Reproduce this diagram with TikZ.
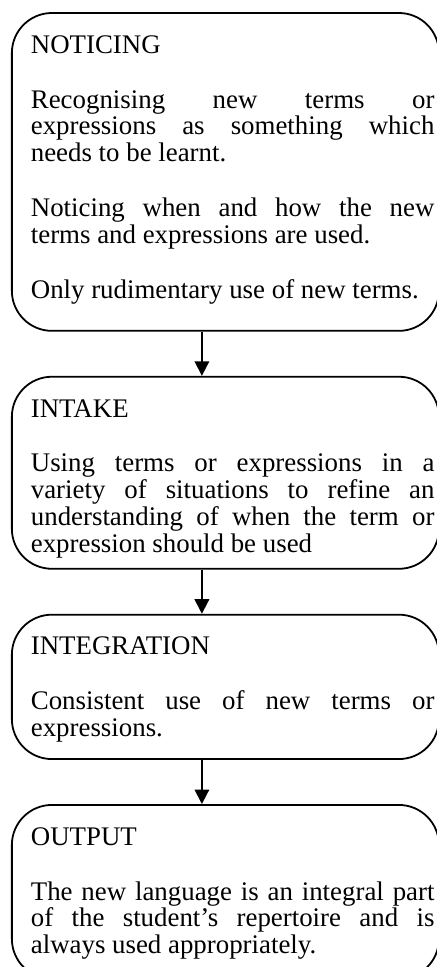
\documentclass[tikz,border=0pt]{standalone}
\usepackage{fontspec}
\setmainfont{Liberation Serif}
\usetikzlibrary{positioning, arrows.meta}

\begin{document}
\begin{tikzpicture}[
    node distance=19.7pt,
    stage/.style={rectangle, draw, line width=0.8pt, rounded corners=17.9pt, text width=186.8pt, align=justify, inner xsep=2pt, inner ysep=10pt, text height=8pt, font=\fontsize{12}{12}\selectfont, execute at begin node={\setlength{\leftskip}{6.5pt}\setlength{\parskip}{12.5pt}\hyphenpenalty=10000\exhyphenpenalty=10000\frenchspacing\spaceskip=0.25em plus 2em minus 0pt\relax}},
    arrow/.style={-{Triangle[length=6.5pt, width=6.5pt]}, line width=0.8pt}
]

\useasboundingbox (0,0) rectangle (195.2pt,-432pt);
\coordinate (axis) at (90.2pt,0);

% Nodes
\node[stage, anchor=north west, text depth=114pt] (noticing) at (4.9pt,-5.4pt) {NOTICING\par
Recognising new terms or expressions as something which needs to be learnt.\par
Noticing when and how the new terms and expressions are used.\par
Only rudimentary use of new terms.};
\node[stage, below=of noticing, text depth=57.8pt] (intake) {INTAKE\par
Using terms or expressions in a variety of situations to refine an understanding of when the term or expression should be used};
\node[stage, below=of intake, text depth=36.5pt] (integration) {INTEGRATION\par
Consistent use of new terms or expressions.};
\node[stage, below=of integration, text depth=49.7pt] (output) {OUTPUT\par
The new language is an integral part of the student's repertoire and is always used appropriately.};

% Arrows
\draw[arrow] (noticing.south -| axis) -- (intake.north -| axis);
\draw[arrow] (intake.south -| axis) -- (integration.north -| axis);
\draw[arrow] (integration.south -| axis) -- (output.north -| axis);

\end{tikzpicture}
\end{document}
